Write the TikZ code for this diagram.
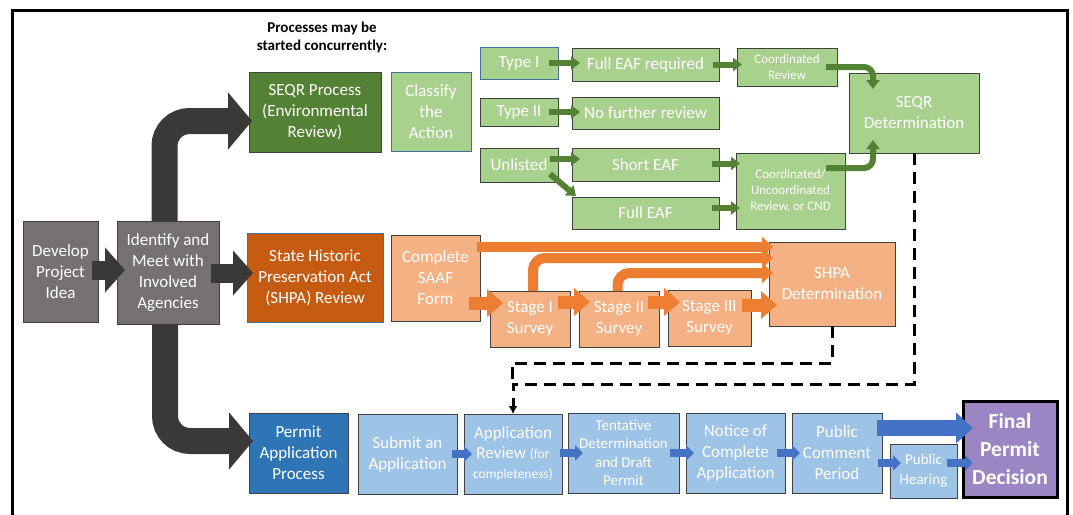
\documentclass[tikz,border=0pt]{standalone}
\usepackage{fontspec}
\setmainfont{Carlito}
\usetikzlibrary{arrows.meta,calc}

\definecolor{darkarr}{HTML}{3B3838}
\definecolor{greybox}{HTML}{767171}
\definecolor{seqrdark}{HTML}{548235}
\definecolor{seqrlight}{HTML}{A9D18E}
\definecolor{shpadark}{HTML}{C55A11}
\definecolor{shpalight}{HTML}{F4B183}
\definecolor{shpaarr}{HTML}{ED7D31}
\definecolor{permdark}{HTML}{2E75B6}
\definecolor{permlight}{HTML}{9DC3E6}
\definecolor{permarr}{HTML}{4472C4}
\definecolor{finalbox}{HTML}{9B85C2}
\definecolor{boxline}{HTML}{404040}
\definecolor{blueline}{HTML}{41719C}

\newcommand\smallfnt{\fontsize{13.5}{16}\selectfont}

\tikzset{
  box/.style={draw=boxline,line width=0.8pt,text=white,align=center,inner sep=1pt,outer sep=0pt,font=\fontsize{17}{21}\selectfont},
  wh/.style 2 args={minimum width=#1pt,minimum height=#2pt},
  bigarr/.style={draw=darkarr,line width=26pt,rounded corners=25pt,-{Triangle[length=24pt,width=56pt]}},
  midarr/.style={draw=darkarr,line width=19pt,-{Triangle[length=20pt,width=44pt]}},
  garr/.style={draw=seqrdark,line width=6pt,rounded corners=9pt,-{Triangle[length=9pt,width=13pt]}},
  oarr/.style={draw=shpaarr,line width=13pt,-{Triangle[length=16pt,width=27pt]}},
  othin/.style={draw=shpaarr,line width=10pt,rounded corners=12pt,-{Triangle[length=11pt,width=20pt]}},
  barr/.style={draw=permarr,line width=8pt,-{Triangle[length=8pt,width=15pt]}},
  bbig/.style={draw=permarr,line width=16pt,-{Triangle[length=17pt,width=30pt]}},
  dashline/.style={draw=black,line width=3pt,dash pattern=on 12pt off 7pt}
}

\begin{document}
\begin{tikzpicture}[x=1pt,y=-1pt]
\useasboundingbox (0,0) rectangle (1073,514);
\draw[line width=3pt] (12.5,10) rectangle (1067.5,560);

\node[font=\bfseries\fontsize{15}{18}\selectfont,align=center] (title) at (322,37) {Processes may be\\started concurrently:};

% start of the process
\node[box,fill=greybox,wh={75}{101}] (develop) at (60.5,271.5) {Develop\\Project\\Idea};
\node[box,fill=greybox,wh={102}{103}] (identify) at (168,272.5) {Identify and\\Meet with\\Involved\\Agencies};

% SEQR row
\node[box,fill=seqrdark,wh={132}{80}] (seqr) at (315,112) {SEQR Process\\(Environmental\\Review)};
\node[box,fill=seqrlight,draw=blueline,wh={80}{79}] (classify) at (431,111.5) {Classify\\the\\Action};
\node[box,fill=seqrlight,draw=blueline,wh={78}{32}] (typeI) at (519,63) {Type I};
\node[box,fill=seqrlight,wh={147}{33}] (fullreq) at (645.5,64.5) {Full EAF required};
\node[box,fill=seqrlight,wh={100}{38},font=\fontsize{13}{15.5}\selectfont] (coord) at (787,67) {Coordinated\\Review};
\node[box,fill=seqrlight,wh={78}{28}] (typeII) at (519,112) {Type II};
\node[box,fill=seqrlight,wh={147}{32}] (nofurther) at (645.5,113) {No further review};
\node[box,fill=seqrlight,wh={78}{34}] (unlisted) at (519,165) {Unlisted};
\node[box,fill=seqrlight,wh={147}{33}] (shorteaf) at (645.5,164.5) {Short EAF};
\node[box,fill=seqrlight,wh={147}{32}] (fulleaf) at (645.5,213) {Full EAF};
\node[box,fill=seqrlight,wh={109}{76},font=\fontsize{13}{16}\selectfont] (coordunc) at (790.5,191) {Coordinated/\\Uncoordinated\\Review, or CND};
\node[box,fill=seqrlight,wh={130}{80}] (seqrdet) at (914,113) {SEQR\\Determination};

% SHPA row
\node[box,fill=shpadark,draw=blueline,wh={136}{89}] (shpa) at (315,277.5) {State Historic\\Preservation Act\\(SHPA) Review};
\node[box,fill=shpalight,wh={89}{86}] (saaf) at (435.5,278) {Complete\\SAAF\\Form};
\node[box,fill=shpalight,wh={80}{56}] (stage1) at (530,319) {Stage I\\Survey};
\node[box,fill=shpalight,wh={80}{56}] (stage2) at (619,319) {Stage II\\Survey};
\node[box,fill=shpalight,wh={83}{56}] (stage3) at (709.5,318) {Stage III\\Survey};
\node[box,fill=shpalight,wh={126}{84}] (shpadet) at (832,284) {SHPA\\Determination};

% permit row
\node[box,fill=permdark,wh={99}{80}] (permit) at (298.5,453) {Permit\\Application\\Process};
\node[box,fill=permlight,wh={99}{80}] (submit) at (407.5,454) {Submit an\\Application};
\node[box,fill=permlight,wh={98}{80},font=\fontsize{17}{20}\selectfont] (appreview) at (513,454) {Application\\Review {\smallfnt(for}\\{\smallfnt completeness)}};
\node[box,fill=permlight,wh={111}{80},font=\fontsize{15}{18.5}\selectfont] (tentative) at (623.5,453) {Tentative\\Determination\\and Draft\\Permit};
\node[box,fill=permlight,wh={99}{80}] (notice) at (735.5,453) {Notice of\\Complete\\Application};
\node[box,fill=permlight,wh={90}{80}] (pubcomment) at (837,453) {Public\\Comment\\Period};
\node[box,fill=permlight,wh={67}{54},font=\fontsize{15}{20}\selectfont] (hearing) at (923.5,471) {Public\\Hearing};
\node[box,fill=finalbox,draw=black,line width=3pt,wh={94}{96},font=\bfseries\fontsize{21.5}{28}\selectfont] (final) at (1010,449) {Final\\Permit\\Decision};

% big arrows
\draw[bigarr] ($(identify.north)+(-3.5,0)$) |- ($(seqr.west)+(3,9)$);
\draw[bigarr] ($(identify.south)+(-3,0)$) |- ($(permit.west)+(4,-12)$);
\draw[midarr] ($(develop.east)+(-6,-1.5)$) -- ($(identify.west)+(8,-2.5)$);
\draw[midarr] ($(identify.east)+(-8,0.5)$) -- ($(identify.east -| shpa.west)+(6,0.5)$);

% SEQR arrows
\draw[garr] ($(typeI.east)+(-9,0)$) -- ($(typeI.east -| fullreq.west)+(8,0)$);
\draw[garr] ($(fullreq.east)+(-6,0)$) -- ($(fullreq.east -| coord.west)+(5,0)$);
\draw[garr] ($(typeII.east)+(-9,0)$) -- ($(typeII.east -| nofurther.west)+(8,0)$);
\draw[garr] ($(unlisted.east)+(-8,-6)$) -- ($(unlisted.east -| shorteaf.west)+(8,-6)$);
\draw[garr] ($(unlisted.south east)+(-8,-8)$) -- ($(fulleaf.north west)+(4,-1)$);
\draw[garr] ($(shorteaf.east)+(-7,-1)$) -- ($(shorteaf.east -| coordunc.west)+(4,-1)$);
\draw[garr] ($(fulleaf.east)+(-7,-5)$) -- ($(fulleaf.east -| coordunc.west)+(4,-5)$);
\draw[garr] ($(coord.east)+(-11,0)$) -| ($(seqrdet.north)+(-41,16)$);
\draw[garr] ($(coordunc.east)+(-19,-23)$) -| ($(seqrdet.south)+(-41,-13)$);

% SHPA arrows
\draw[othin] ($(saaf.north east)+(-3,12)$) -- ($(saaf.north east -| shpadet.west)+(4,12)$);
\draw[othin] ($(stage1.north)+(3,0)$) |- ($(shpadet.west)+(4,-26)$);
\draw[othin] ($(stage2.north)+(-1.5,0)$) |- ($(shpadet.west)+(4,-11)$);
\draw[oarr] ($(saaf.east)+(-11,25)$) -- ($(stage1.west)+(13,-16)$);
\draw[oarr] ($(stage1.east)+(-12,-17)$) -- ($(stage2.west)+(11,-17)$);
\draw[oarr] ($(stage2.east)+(-11,-17)$) -- ($(stage3.west)+(12,-16)$);
\draw[oarr] ($(stage3.east)+(-9,-13)$) -- ($(stage3.east -| shpadet.west)+(8,-13)$);

% permit arrows
\draw[barr] ($(submit.east)+(-5,0)$) -- ($(appreview.west)+(8,0)$);
\draw[barr] ($(appreview.east)+(-2,-1)$) -- ($(tentative.west)+(15,0)$);
\draw[barr] ($(tentative.east)+(-9,0)$) -- ($(notice.west)+(8,0)$);
\draw[barr] ($(notice.east)+(-8,0)$) -- ($(pubcomment.west)+(8,0)$);
\draw[bbig] ($(pubcomment.east)+(-5,-25)$) -- ($(final.west)+(10,-21)$);
\draw[barr] ($(pubcomment.east)+(-4,10)$) -- ($(hearing.west)+(11,-8)$);
\draw[barr] ($(hearing.east)+(-10,-8)$) -- ($(final.west)+(10,14)$);

% determinations feed the permit review
\draw[dashline,-{Latex[length=8pt,width=9pt]}] (seqrdet.south) |- ($(appreview.north)+(0,-30)$) -- (appreview.north);
\draw[dashline] (shpadet.south) |- ($(appreview.north)+(-1,-51)$) -- ($(appreview.north)+(-1,-30)$);
\end{tikzpicture}
\end{document}
